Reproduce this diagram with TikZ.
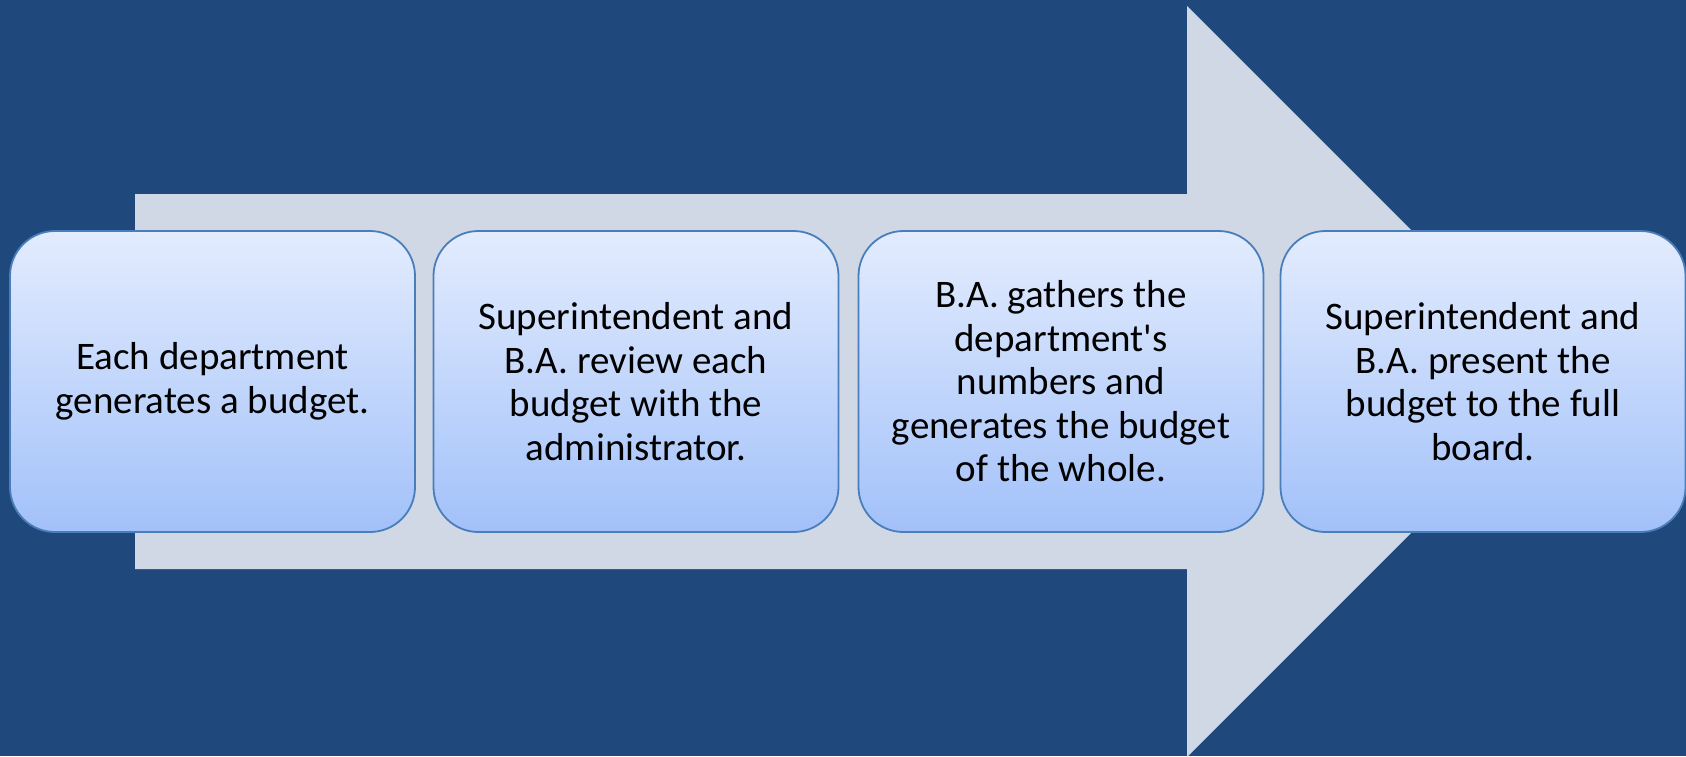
\documentclass[tikz,border=0pt]{standalone}
\usepackage{fontspec}
\setmainfont{Carlito}[Ligatures=TeXOff]
\definecolor{bgblue}{HTML}{1F497D}
\definecolor{arrowgray}{HTML}{D0D8E6}
\definecolor{boxtop}{HTML}{E3ECFE}
\definecolor{boxbot}{HTML}{A2C1F9}
\definecolor{boxedge}{HTML}{4A7EBB}
\tikzset{
  stepbox/.style={draw=boxedge, line width=1.8pt, rounded corners=45pt,
    top color=boxtop, bottom color=boxbot, minimum width=405pt, minimum height=301pt,
    inner sep=0pt, align=center, text=black,
    font=\fontsize{39}{43.5}\selectfont}
}
\begin{document}
\begin{tikzpicture}[x=1pt,y=-1pt]
\fill[bgblue] (0,0) rectangle (1686,756);
\useasboundingbox (0,0) rectangle (1686,756);
\fill[arrowgray] (135,194) -- (1187,194) -- (1187,6) -- (1562.5,381.5) -- (1187,757) -- (1187,569) -- (135,569) -- cycle;
\node[stepbox] (b1) at (212.5,381.5) {Each department\\generates a budget.};
\node[stepbox] (b2) at (636,381.5) {Superintendent and\\B.A. review each\\budget with the\\administrator.};
\node[stepbox] (b3) at (1061,381.5) {B.A. gathers the\\department's\\numbers and\\generates the budget\\of the whole.};
\node[stepbox] (b4) at (1483,381.5) {Superintendent and\\B.A. present the\\budget to the full\\board.};
\end{tikzpicture}
\end{document}
